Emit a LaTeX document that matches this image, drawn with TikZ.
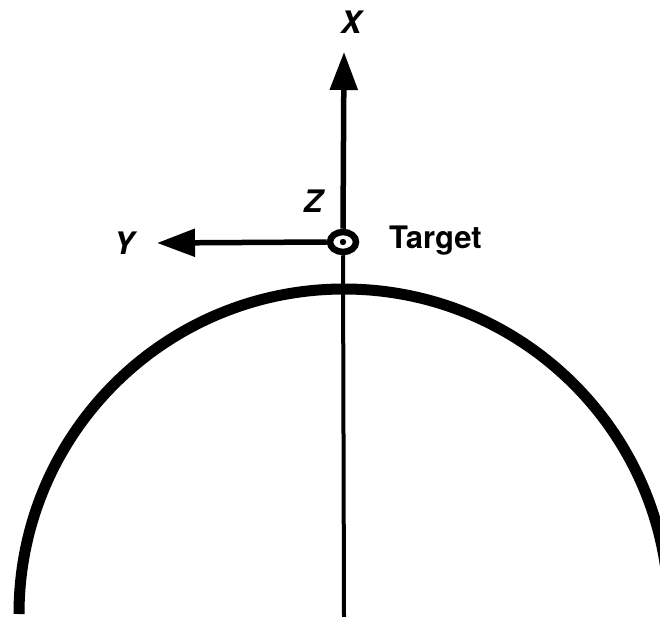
\documentclass[tikz,border=0pt]{standalone}
\usepackage{fontspec}
\setmainfont{TeX Gyre Heros}
\usetikzlibrary{arrows.meta,shapes.geometric}
\begin{document}
\begin{tikzpicture}[x=1pt,y=-1pt,
  axis/.style={line width=5.5pt,-{Triangle[length=38pt,width=27pt]}},
  lbl/.style={font=\fontsize{31}{33}\selectfont\bfseries\itshape, inner sep=0pt},
  tgt/.style={font=\fontsize{31}{33}\selectfont\bfseries, inner sep=0pt, anchor=west}]
\useasboundingbox (0,0) rectangle (660,617);
% globe
\draw[line width=11pt] (19,614) arc[start angle=180, end angle=360, radius=325];
% target
\node[draw, ellipse, line width=6.5pt, minimum width=26pt, minimum height=20pt, inner sep=0pt] (T) at (343,242) {};
\fill (343,242) circle (3.2pt);
\coordinate (Xtip) at (344,52);
\coordinate (Ytip) at (157,243);
\coordinate (bot) at (344,617);
\draw[axis] (T.north) -- (Xtip);
\draw[axis] (T.west) -- (Ytip);
\draw[line width=4pt] (T.south) -- (bot);
% labels
\node[lbl] (X) at (351,22) {X};
\node[lbl] (Y) at (124,243) {Y};
\node[lbl] (Z) at (313,201) {Z};
\node[tgt] (Tl) at (389,241) {Target};
\end{tikzpicture}
\end{document}
